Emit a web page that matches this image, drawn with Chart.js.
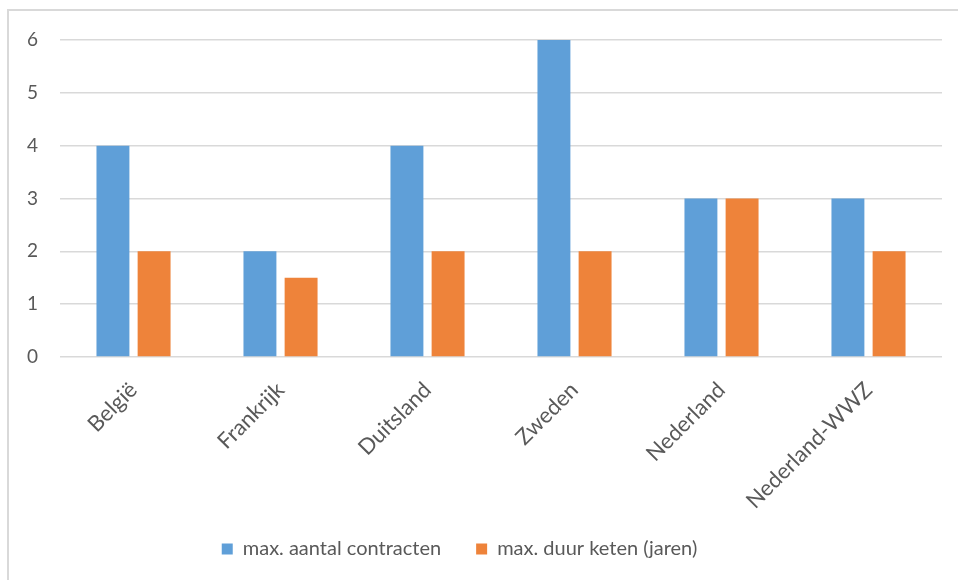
<!DOCTYPE html>
<html>
<head>
<meta charset="utf-8">
<script src="https://cdn.jsdelivr.net/npm/chart.js@4/dist/chart.umd.min.js"></script>
<style>
  html, body { margin: 0; padding: 0; background: #fff; overflow: hidden; }
  .frame {
    position: absolute; left: 7px; top: 9px; width: 1000px; height: 700px;
    border: 2px solid #d9d9d9; box-sizing: border-box;
  }
  .graphBox { position: absolute; left: 0; top: 0; width: 958px; height: 580px; }
</style>
</head>
<body>
<div class="frame"></div>
<div class="graphBox"><canvas id="bar" width="958" height="580"></canvas></div>
<script>
// countries on the x axis
const landen = ['België', 'Frankrijk', 'Duitsland', 'Zweden', 'Nederland', 'Nederland-WWZ'];
const aantalContracten = [4, 2, 4, 6, 3, 3];
const duurKeten = [2, 1.5, 2, 2, 3, 2];
const yTicks = [0, 1, 2, 3, 4, 5, 6];

const grey = '#595959';
const fontFamily = 'Lato, "Open Sans", sans-serif';

const bar_data = {
  labels: landen,
  datasets: [
    {
      label: 'max. aantal contracten',
      data: aantalContracten,
      backgroundColor: '#5f9fd8',
      barPercentage: 0.8,
      categoryPercentage: 0.56,
    },
    {
      label: 'max. duur keten (jaren)',
      data: duurKeten,
      backgroundColor: '#ee833a',
      barPercentage: 0.8,
      categoryPercentage: 0.56,
    },
  ],
};

// legend a bit left of centre; let the long x label run into the legend band
const layoutTweaks = {
  id: 'layoutTweaks',
  afterLayout(chart) {
    chart.legend.left -= 14;
    chart.legend.right -= 14;
    chart.scales.x.bottom += 20;
  },
};

new Chart(document.getElementById('bar'), {
  type: 'bar',
  data: bar_data,
  plugins: [layoutTweaks],
  options: {
    responsive: false,
    animation: false,
    layout: { padding: { top: 40, left: 5, right: 16, bottom: 11 } },
    plugins: {
      tooltip: { enabled: false },
      legend: {
        position: 'bottom',
        labels: {
          color: grey,
          boxWidth: 11,
          boxHeight: 11,
          padding: 35,
          font: { family: fontFamily, size: 20 },
        },
      },
    },
    scales: {
      x: {
        grid: { display: false },
        border: { display: false },
        // fixed axis height, and no extra side padding for the rotated labels
        afterFit: (scale) => {
          scale.paddingLeft = 0;
          scale.paddingRight = 0;
          scale.height = 147;
        },
        ticks: {
          color: grey,
          minRotation: 45,
          maxRotation: 45,
          padding: 12,
          font: { family: fontFamily, size: 22 },
        },
      },
      y: {
        min: yTicks[0],
        max: yTicks[yTicks.length - 1],
        afterBuildTicks: (axis) => { axis.ticks = yTicks.map(v => ({ value: v })); },
        grid: { color: '#d9d9d9', lineWidth: 1.5, drawTicks: false },
        border: { display: false },
        ticks: {
          color: grey,
          padding: 22,
          font: { family: fontFamily, size: 19 },
        },
      },
    },
  },
});
</script>
</body>
</html>
